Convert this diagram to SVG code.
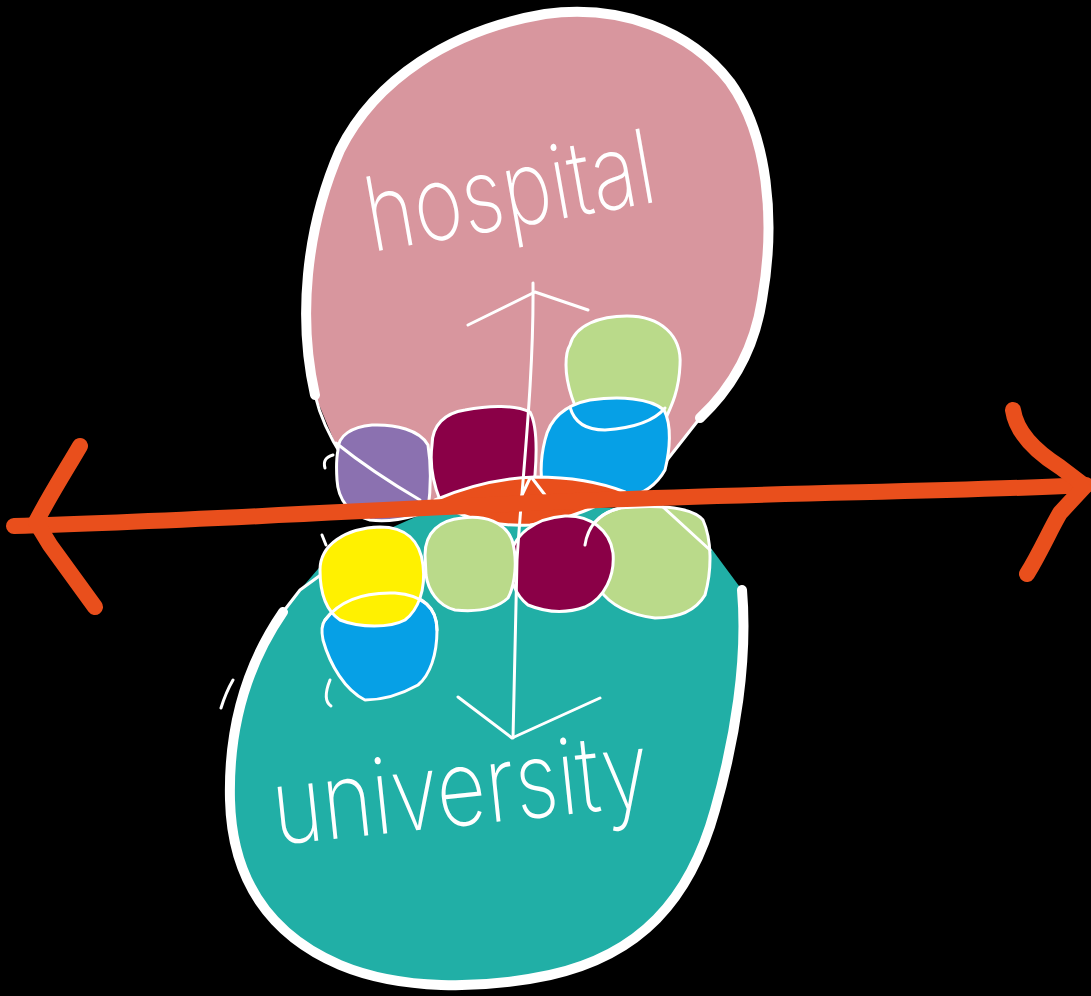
<svg xmlns="http://www.w3.org/2000/svg" width="1091" height="996" viewBox="0 0 1091 996">
<style>
.thick{fill:none;stroke:#fff;stroke-width:10;stroke-linecap:round;stroke-linejoin:round}
.thin{fill:none;stroke:#fff;stroke-width:3;stroke-linecap:round;stroke-linejoin:round}
.blob{stroke:#fff;stroke-width:3;stroke-linejoin:round}
.red{fill:none;stroke:#E94F1C;stroke-width:16;stroke-linecap:round;stroke-linejoin:round}
.hand{fill:#fff;font-family:Inter,Lato,"Open Sans","DejaVu Sans",sans-serif;font-weight:200}
.pink{fill:#D8969E}.teal{fill:#21AFA6}.lg{fill:#BADA8A}.bl{fill:#06A0E6}.mg{fill:#8A0047}.pu{fill:#8B71B0}.ye{fill:#FFF100}.or{fill:#E94F1C}
</style>
<rect width="1091" height="996" fill="#000"/>
<g id="hospital">
<path class="pink" d="M 315,395 C 298,320 305,230 340,150 C 375,80 450,30 545,14 C 620,4 690,30 730,82 C 768,135 776,220 762,300 C 755,345 735,385 700,418 L 642,492 L 530,500 L 380,500 L 340,455 Z"/>
<path class="thick" d="M 315,395 C 298,320 305,230 340,150 C 375,80 450,30 545,14 C 620,4 690,30 730,82 C 768,135 776,220 762,300 C 755,345 735,385 700,418"/>
<path class="thin" d="M 700,418 L 642,492 M 315,395 Q 322,425 343,458"/>
<text class="hand" x="0" y="0" font-size="86" textLength="292" lengthAdjust="spacingAndGlyphs" transform="translate(372,252) rotate(-10) scale(1,1.2)">hospital</text>
</g>
<g id="university">
<path class="teal" d="M 283,612 C 250,660 228,720 230,800 C 232,880 270,935 340,965 C 400,990 480,990 550,975 C 640,955 690,900 715,810 C 735,740 748,660 742,590 L 705,540 Q 690,515 620,508 L 520,505 L 420,515 L 330,555 L 300,590 Z"/>
<path class="thick" d="M 283,612 C 250,660 228,720 230,800 C 232,880 270,935 340,965 C 400,990 480,990 550,975 C 640,955 690,900 715,810 C 735,740 748,660 742,590"/>
<path class="thin" d="M 233,680 Q 226,692 221,708 M 283,612 L 300,590 L 322,574"/>
<text class="hand" x="0" y="0" font-size="88" textLength="378" lengthAdjust="spacingAndGlyphs" transform="translate(276,845) rotate(-6) scale(1,1.2)">university</text>
</g>
<g id="green-top"><path class="blob lg" d="M 570,345 C 575,325 600,316 627,316 C 660,316 682,335 680,365 C 679,390 672,405 665,420 C 640,428 600,428 585,425 C 575,410 566,385 566,365 C 566,355 568,348 570,345 Z"/></g>
<g id="blue-top"><path class="blob bl" d="M 545,440 C 550,418 565,405 590,400 C 620,396 650,398 664,410 C 672,425 670,450 665,470 C 655,488 640,495 625,498 L 545,497 C 540,480 540,460 545,440 Z"/>
<path class="thin" d="M 570,407 C 574,422 585,430 605,430 C 635,428 655,420 665,408"/></g>
<g id="magenta-top"><path class="blob mg" d="M 432,445 C 432,425 445,413 465,410 C 490,405 515,405 530,412 C 537,425 537,450 535,475 L 530,495 L 440,500 C 432,480 430,460 432,445 Z"/></g>
<g id="purple"><path class="blob pu" d="M 338,450 C 338,435 352,427 372,425 C 395,424 420,430 428,445 C 432,470 430,495 428,510 C 410,520 385,522 370,520 C 350,515 338,500 337,480 C 336,465 337,455 338,450 Z"/>
<path class="thin" d="M 336,443 Q 372,472 420,500 M 333,455 Q 322,458 325,468"/></g>
<g id="lens"><path class="blob or" d="M 435,500 C 470,485 505,478 535,477 C 570,477 600,482 625,492 C 600,505 570,520 530,525 C 495,527 460,518 435,500 Z"/></g>
<g id="green-bottom-2"><path class="blob lg" d="M 585,545 C 588,525 600,513 620,508 C 650,505 690,505 703,520 C 712,540 712,570 705,595 C 695,612 675,618 655,618 C 630,615 610,605 600,590 C 590,575 585,560 585,545 Z"/>
<path class="thin" d="M 663,507 L 710,550"/></g>
<g id="magenta-bottom"><path class="blob mg" d="M 510,560 C 512,535 535,518 565,516 C 590,515 610,530 613,553 C 615,575 605,598 585,607 C 565,614 545,612 528,605 C 515,595 509,578 510,560 Z"/>
<path class="thin" d="M 585,545 C 588,525 600,513 620,508"/></g>
<g id="green-bottom-1"><path class="blob lg" d="M 425,555 C 425,532 440,520 462,518 C 485,515 505,522 512,540 C 518,560 515,585 508,598 C 495,610 475,612 455,610 C 438,606 428,590 426,575 Z"/></g>
<g id="blue-bottom"><path class="blob bl" d="M 325,620 C 340,600 365,592 395,593 C 420,595 437,605 437,630 C 437,655 430,675 418,685 C 400,695 380,700 365,700 C 345,690 330,665 323,640 C 321,630 322,624 325,620 Z"/></g>
<g id="yellow"><path class="blob ye" d="M 320,570 C 320,545 345,528 380,527 C 405,527 420,540 423,565 C 426,590 418,610 405,620 C 390,628 360,628 340,620 C 325,610 320,590 320,570 Z"/>
<path class="thin" d="M 325,620 C 340,600 365,592 395,593 C 420,595 437,605 437,630 M 326,545 L 322,535 M 330,680 Q 322,700 331,706"/></g>
<g id="connectors">
<path class="thin" d="M 533,283 C 534,380 522,480 517,560 L 513,738"/>
<path class="thin" d="M 468,325 L 535,292 L 588,310"/>
<path class="thin" d="M 458,697 L 512,738 L 600,698"/>
<path class="thin" d="M 530,478 L 522,495 M 532,478 L 545,495"/>
<path class="red" d="M 14,526 C 200,521 400,508 600,500 S 950,492 1086,485"/>
<path class="red" d="M 80,446 C 66,470 50,495 36,522 L 50,545 L 95,607"/>
<path class="red" d="M 1013,410 C 1016,430 1030,448 1060,467 L 1085,486 L 1060,513 C 1050,530 1040,553 1027,574"/>
</g>
</svg>
